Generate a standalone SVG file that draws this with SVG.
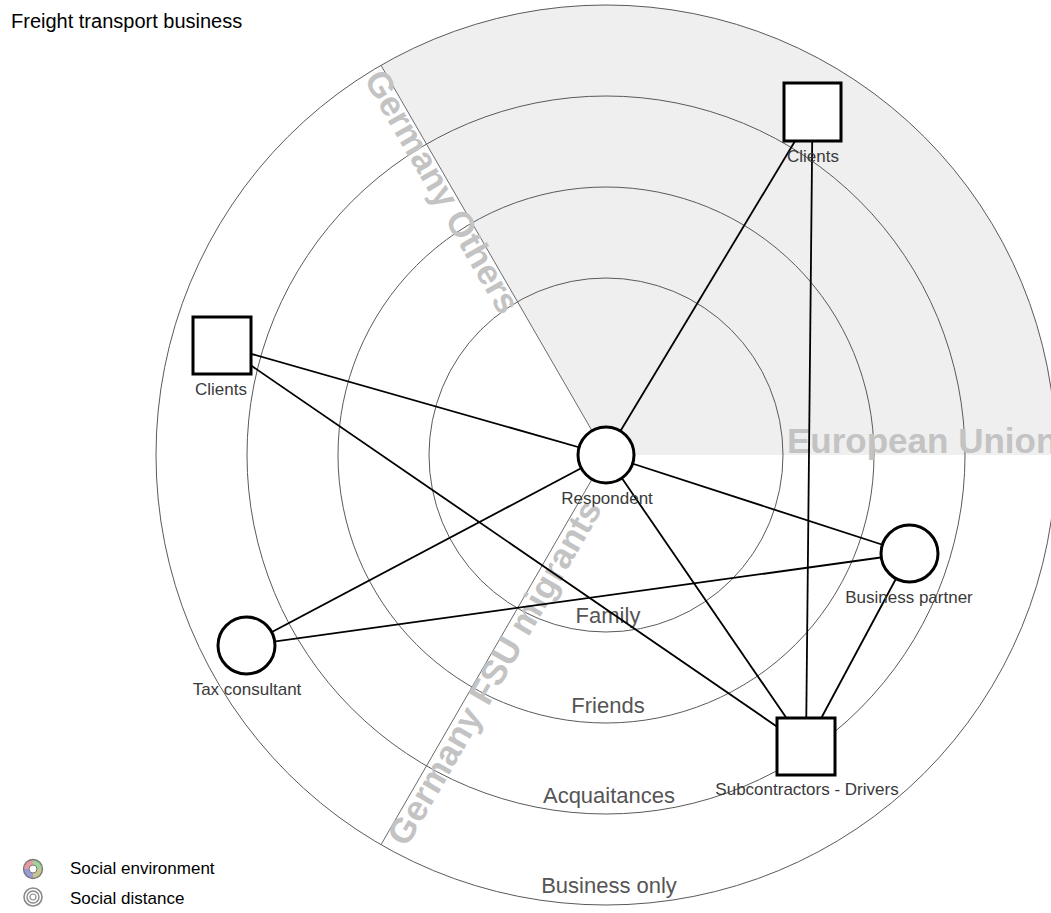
<svg xmlns="http://www.w3.org/2000/svg" width="1051" height="913" viewBox="0 0 1051 913">
<style>
.ring{fill:none;stroke:#5a5a5a;stroke-width:1}
.sect{stroke:#6a6a6a;stroke-width:1;fill:none}
.slbl{font-family:"Liberation Sans",Arial,sans-serif;font-weight:bold;font-size:35px;fill:#c3c3c3}
.rlbl{font-family:"Liberation Sans",Arial,sans-serif;font-size:22px;fill:#555;text-anchor:middle}
.nlbl{font-family:"Liberation Sans",Arial,sans-serif;font-size:17px;fill:#3a3a3a;text-anchor:middle}
.node{fill:#fff;stroke:#000;stroke-width:3}
.edge{stroke:#000;stroke-width:1.8;fill:none}
.title{font-family:"Liberation Sans",Arial,sans-serif;font-size:20px;fill:#000}
.leg{font-family:"Liberation Sans",Arial,sans-serif;font-size:17px;fill:#000}
</style>
<rect width="1051" height="913" fill="#fff"/>
<g id="background">
<path d="M606,455 L381,65.3 A450,450 0 0 1 1056,455 Z" fill="#efefef"/>
<circle class="ring" cx="606" cy="455" r="450"/>
<circle class="ring" cx="606" cy="455" r="359"/>
<circle class="ring" cx="606" cy="455" r="268"/>
<circle class="ring" cx="606" cy="455" r="177"/>
<line class="sect" x1="606" y1="455" x2="381" y2="65.3"/>
<line class="sect" x1="606" y1="455" x2="381" y2="844.7"/>
<text class="slbl" transform="translate(606,455) rotate(60)" x="-447" y="22">Germany Others</text>
<text class="slbl" transform="translate(606,455) rotate(-60)" x="-440" y="24" textLength="392">Germany FSU migrants</text>
<text class="slbl" x="787" y="453">European Union</text>
<text class="rlbl" x="608" y="623">Family</text>
<text class="rlbl" x="608" y="713">Friends</text>
<text class="rlbl" x="609" y="803">Acquaitances</text>
<text class="rlbl" x="609" y="893">Business only</text>
</g>
<g id="connectors">
<line class="edge" x1="606" y1="455" x2="812.5" y2="112"/>
<line class="edge" x1="812.5" y1="112" x2="806" y2="746.5"/>
<line class="edge" x1="222" y1="345.5" x2="606" y2="455"/>
<line class="edge" x1="222" y1="345.5" x2="806" y2="746.5"/>
<line class="edge" x1="246.5" y1="645.5" x2="606" y2="455"/>
<line class="edge" x1="246.5" y1="645.5" x2="909.5" y2="553.5"/>
<line class="edge" x1="606" y1="455" x2="909.5" y2="553.5"/>
<line class="edge" x1="606" y1="455" x2="806" y2="746.5"/>
<line class="edge" x1="909.5" y1="553.5" x2="806" y2="746.5"/>
</g>
<g id="node-respondent">
<circle class="node" cx="606" cy="455" r="28"/>
<text class="nlbl" x="607" y="504">Respondent</text>
</g>
<g id="node-clients-top">
<rect class="node" x="784" y="83" width="57" height="58"/>
<text class="nlbl" x="813" y="162">Clients</text>
</g>
<g id="node-clients-left">
<rect class="node" x="193" y="317" width="58" height="57"/>
<text class="nlbl" x="221" y="395">Clients</text>
</g>
<g id="node-tax">
<circle class="node" cx="246.5" cy="645.5" r="28.5"/>
<text class="nlbl" x="247" y="695">Tax consultant</text>
</g>
<g id="node-partner">
<circle class="node" cx="909.5" cy="553.5" r="28.5"/>
<text class="nlbl" x="909" y="603">Business partner</text>
</g>
<g id="node-subcontractors">
<rect class="node" x="777" y="718" width="58" height="57"/>
<text class="nlbl" x="807" y="795">Subcontractors - Drivers</text>
</g>
<g id="title">
<text class="title" x="11" y="28">Freight transport business</text>
</g>
<g id="legend">
<g transform="translate(33,869)">
<path d="M0,-9.5 A9.5,9.5 0 0 1 9.5,0 L4,0 A4,4 0 0 0 0,-4 Z" fill="#9fd39a"/>
<path d="M9.5,0 A9.5,9.5 0 0 1 0,9.5 L0,4 A4,4 0 0 0 4,0 Z" fill="#c8c690"/>
<path d="M0,9.5 A9.5,9.5 0 0 1 -9.5,0 L-4,0 A4,4 0 0 0 0,4 Z" fill="#9a9ad8"/>
<path d="M-9.5,0 A9.5,9.5 0 0 1 0,-9.5 L0,-4 A4,4 0 0 0 -4,0 Z" fill="#e99aa0"/>
<circle r="9.5" fill="none" stroke="#777" stroke-width="1.3"/>
<circle r="4" fill="#fff" stroke="#777" stroke-width="1"/>
</g>
<g transform="translate(33,897)" fill="none" stroke="#888">
<circle r="9" stroke-width="1.6"/>
<circle r="6" stroke-width="1.4"/>
<circle r="3" stroke-width="1.2"/>
</g>
<text class="leg" x="70" y="874">Social environment</text>
<text class="leg" x="70" y="904">Social distance</text>
</g>
</svg>
